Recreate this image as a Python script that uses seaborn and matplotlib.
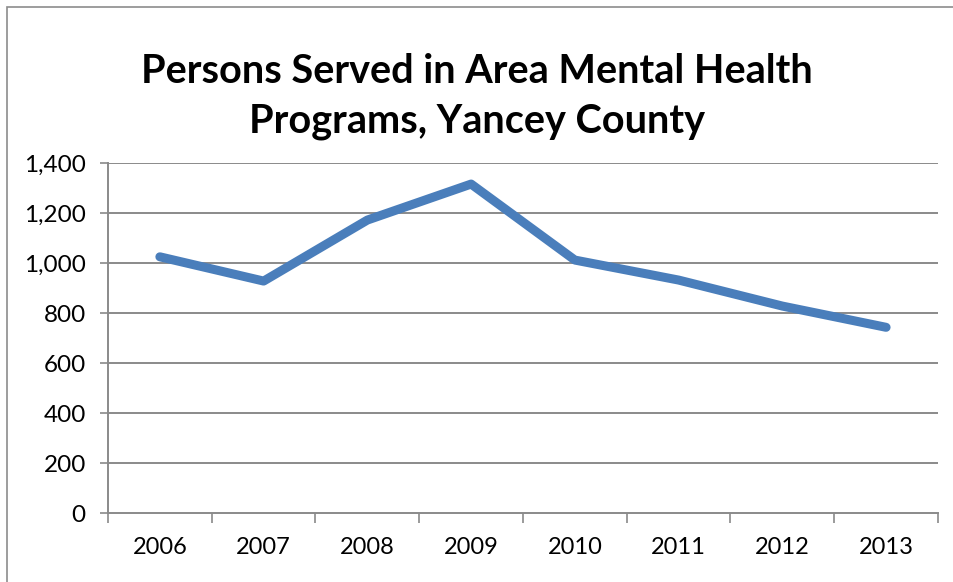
import matplotlib
matplotlib.use("Agg")
import matplotlib.pyplot as plt
import matplotlib.patches as mpatches
from matplotlib.ticker import FixedLocator, FuncFormatter
import seaborn as sns
import pandas as pd

years = ["2006", "2007", "2008", "2009", "2010", "2011", "2012", "2013"]
persons_served = [1026, 929, 1173, 1317, 1013, 933, 829, 744]
y_ticks = [0, 200, 400, 600, 800, 1000, 1200, 1400]
title = "Persons Served in Area Mental Health\nPrograms, Yancey County"

sns.set_theme(style="white")
plt.rcParams["font.family"] = ["Lato", "DejaVu Sans"]

df = pd.DataFrame({"Year": years, "Persons": persons_served})
df["pos"] = range(len(years))

fig = plt.figure(figsize=(9.54, 5.82), dpi=100)
ax = fig.add_axes([0.1132, 0.118, 0.8700, 0.6014])

# chart frame
fig.patches.append(mpatches.Rectangle((7 / 954, -0.05), 1.2, 1 - 7 / 582 + 0.05,
                                      transform=fig.transFigure, fill=False,
                                      edgecolor="#8c8c8c", linewidth=1.2))

grid_color = "#8a8a8a"
for v in y_ticks[1:]:
    ax.axhline(v, color=grid_color, linewidth=1.4, zorder=1)

sns.lineplot(data=df, x="pos", y="Persons", ax=ax, color="#4a7ebb",
             linewidth=6.5, solid_capstyle="round", solid_joinstyle="round",
             sort=False, zorder=3)

ax.set_xlim(-0.5, len(years) - 0.5)
ax.set_ylim(0, 1400)
ax.set_xlabel("")
ax.set_ylabel("")

ax.xaxis.set_major_locator(FixedLocator(range(len(years))))
ax.set_xticklabels(years, fontsize=17, color="#000000")
ax.xaxis.set_minor_locator(FixedLocator([i - 0.5 for i in range(len(years) + 1)]))
ax.tick_params(axis="x", which="major", length=0, pad=17)
ax.tick_params(axis="x", which="minor", length=7, width=1.2, color=grid_color,
               direction="out", bottom=True)

ax.yaxis.set_major_locator(FixedLocator(y_ticks))
ax.yaxis.set_major_formatter(FuncFormatter(lambda v, p: f"{int(v):,}"))
ax.tick_params(axis="y", which="major", length=6, width=1.2, color=grid_color,
               direction="out", left=True, labelsize=17.5, labelcolor="#000000", pad=10)

for side in ["top", "right"]:
    ax.spines[side].set_visible(False)
for side in ["left", "bottom"]:
    ax.spines[side].set_color(grid_color)
    ax.spines[side].set_linewidth(1.4)

fig.text(0.5, 0.834, title, ha="center", va="center", fontsize=28.5,
         fontweight="bold", color="#000000", linespacing=1.42)

fig.savefig("out.png", dpi=100, facecolor="white")
